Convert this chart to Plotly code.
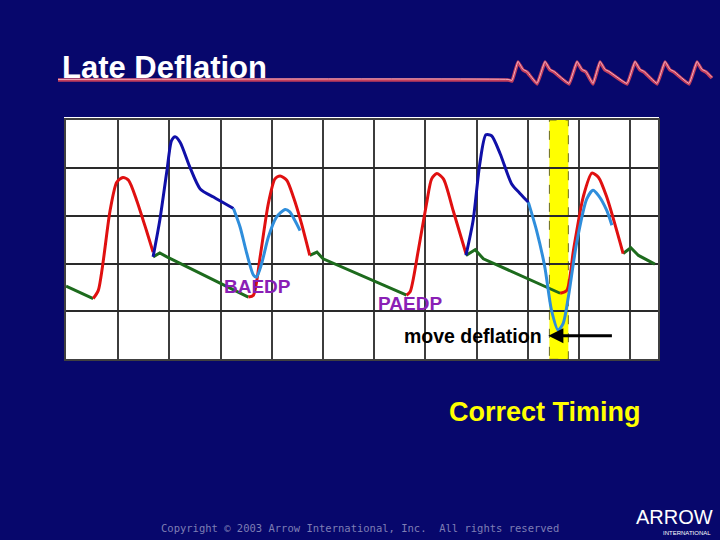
import plotly.graph_objects as go

# ---------------- data (grid units: x = time divisions, y = pressure divisions) -------------
green_x = [[-1.02, -0.49], [0.68, 0.81, 0.95, 2.54], [3.74, 3.88, 4.00, 5.63],
           [6.79, 6.97, 7.13, 8.63], [9.86, 10.01, 10.16, 10.48]]
green_y = [[1.53, 1.27], [2.14, 2.22, 2.14, 1.30], [2.17, 2.24, 2.10, 1.34],
           [2.17, 2.29, 2.10, 1.38], [2.21, 2.33, 2.17, 1.99]]

red_x = [[-0.49, -0.39, -0.16, -0.03, 0.09, 0.20, 0.36, 0.55, 0.68],
         [2.54, 2.64, 2.77, 2.93, 3.06, 3.16, 3.29, 3.42, 3.58, 3.74],
         [5.63, 5.70, 5.86, 6.02, 6.12, 6.22, 6.35, 6.54, 6.79],
         [8.63, 8.76, 8.89, 9.08, 9.25, 9.38, 9.54, 9.86]]
red_y = [[1.27, 1.44, 3.11, 3.70, 3.80, 3.74, 3.32, 2.69, 2.24],
         [1.30, 1.34, 2.14, 3.25, 3.77, 3.83, 3.74, 3.39, 2.83, 2.17],
         [1.34, 1.41, 2.28, 3.25, 3.77, 3.88, 3.77, 3.11, 2.21],
         [1.38, 1.44, 2.28, 3.39, 3.89, 3.80, 3.39, 2.21]]

blue_x = [[0.68, 0.81, 0.95, 1.04, 1.11, 1.21, 1.40, 1.60, 1.86, 2.25],
          [6.79, 6.93, 7.06, 7.18, 7.29, 7.46, 7.68, 7.85, 8.01]]
blue_y = [[2.14, 2.90, 3.94, 4.57, 4.65, 4.53, 4.01, 3.56, 3.39, 3.15],
          [2.17, 2.90, 4.08, 4.69, 4.67, 4.29, 3.67, 3.46, 3.28]]

lblue_x = [[2.25, 2.38, 2.51, 2.64, 2.70, 2.80, 2.93, 3.09, 3.26, 3.35, 3.45, 3.55],
           [8.01, 8.17, 8.33, 8.46, 8.59, 8.69, 8.79, 8.95, 9.15, 9.27, 9.38, 9.54, 9.64]]
lblue_y = [[3.15, 2.76, 2.21, 1.76, 1.72, 2.00, 2.55, 2.97, 3.13, 3.08, 2.90, 2.69],
           [3.28, 2.69, 1.93, 1.03, 0.61, 0.75, 1.30, 2.42, 3.35, 3.53, 3.42, 3.11, 2.80]]

highlight = [8.42, 8.79]            # yellow deflation-timing band

label_text = ["BAEDP", "PAEDP"]
label_x = [2.72, 5.69]
label_y = [1.53, 1.16]

move_text = "move deflation"
move_x, move_y = 8.32, 0.49
arrow_tail_x = 9.67

# decorative title underline + ECG squiggle (page pixels)
ecg_x = [58, 508, 512, 518, 523, 527, 537, 545, 550, 554, 569, 577, 582, 586, 593, 600, 605,
         609, 627, 635, 640, 644, 657, 665, 670, 674, 689, 697, 702, 706, 712]
ecg_y = [80, 80, 81, 62, 70, 72, 84, 62, 70, 72, 84, 62, 70, 72, 84, 62, 70,
         72, 84, 62, 70, 72, 84, 62, 70, 72, 84, 62, 70, 72, 78]

W, H = 720, 540
BG = "#07076c"

fig = go.Figure()

def seg(xs, ys, color, shape="spline"):
    for sx, sy in zip(xs, ys):
        fig.add_trace(go.Scatter(x=sx, y=sy, mode="lines", xaxis="x", yaxis="y",
                                 line=dict(color=color, width=3, shape=shape, smoothing=0.7),
                                 hoverinfo="skip", showlegend=False))

seg(green_x, green_y, "#1d6b1d", shape="linear")
seg(red_x, red_y, "#e01010")
seg(blue_x, blue_y, "#1010a8")
seg(lblue_x, lblue_y, "#2f8edc")

# decoration traces
fig.add_trace(go.Scatter(x=ecg_x, y=ecg_y, mode="lines", xaxis="x2", yaxis="y2",
                         line=dict(color="#c23e5c", width=3.5, shape="spline", smoothing=0.3),
                         hoverinfo="skip", showlegend=False))
fig.add_trace(go.Scatter(x=ecg_x, y=[v - 0.6 for v in ecg_y], mode="lines", xaxis="x2", yaxis="y2",
                         line=dict(color="#f5b0c0", width=1, shape="spline", smoothing=0.3),
                         hoverinfo="skip", showlegend=False))

x0, x1 = 66, 658
y0, y1 = 120, 359.3

shapes = [
    dict(type="rect", xref="paper", yref="paper", x0=64 / W, x1=659 / W,
         y0=1 - 361 / H, y1=1 - 117 / H, fillcolor="white", line=dict(width=0), layer="below"),
    dict(type="rect", xref="x", yref="y domain", x0=highlight[0], x1=highlight[1], y0=0, y1=1,
         fillcolor="#ffff00", line=dict(color="#6a6a20", width=1, dash="dash"), layer="below"),
]

annotations = []
for t, lx, ly in zip(label_text, label_x, label_y):
    annotations.append(dict(x=lx, y=ly, xref="x", yref="y", text=f"<b>{t}</b>", showarrow=False,
                            font=dict(family="Liberation Sans, Arial", size=19, color="#8a1fb5")))
annotations.append(dict(x=move_x, y=move_y, xref="x", yref="y", text=f"<b>{move_text}</b>",
                        showarrow=False, xanchor="right",
                        font=dict(family="Liberation Sans, Arial", size=19.5, color="black")))
annotations.append(dict(x=move_x + 0.08, y=move_y, ax=arrow_tail_x, ay=move_y, xref="x", yref="y",
                        axref="x", ayref="y", text="", showarrow=True, arrowhead=2,
                        arrowsize=1, arrowwidth=3, arrowcolor="black"))

def pa(text, px, py, size, color, family="Liberation Sans, Arial", xanchor="center", bold=False):
    annotations.append(dict(x=px / W, y=1 - py / H, xref="paper", yref="paper",
                            text=f"<b>{text}</b>" if bold else text, showarrow=False,
                            xanchor=xanchor, yanchor="middle",
                            font=dict(family=family, size=size, color=color)))

pa("Late Deflation", 60, 67, 31, "white", xanchor="left", bold=True)
pa("Correct Timing", 545, 412, 27, "#ffff00", bold=True)
pa("Copyright © 2003 Arrow International, Inc.  All rights reserved", 360, 528, 10.5,
   "#7e7eb4", family="DejaVu Sans Mono, monospace")
pa("ARROW", 674, 517, 20, "white", family="Liberation Sans, Arial")
pa("INTERNATIONAL", 687, 533, 6, "white")

fig.update_layout(
    width=W, height=H, margin=dict(l=0, r=0, t=0, b=0),
    paper_bgcolor=BG, plot_bgcolor="rgba(0,0,0,0)",
    showlegend=False,
    xaxis=dict(domain=[x0 / W, x1 / W], range=[-1.021, 10.541], tickvals=list(range(0, 11)),
               showticklabels=False, ticks="", showgrid=True, gridcolor="#3c3c3c", gridwidth=1.5,
               zeroline=False, showline=True, linecolor="#404040", linewidth=2, mirror=True,
               fixedrange=True),
    yaxis=dict(domain=[1 - y1 / H, 1 - y0 / H], range=[0, 5], tickvals=[1, 2, 3, 4],
               showticklabels=False, ticks="", showgrid=True, gridcolor="#2a2a2a", gridwidth=1.5,
               zeroline=False, showline=True, linecolor="#404040", linewidth=2, mirror=True,
               fixedrange=True),
    xaxis2=dict(domain=[0, 1], range=[0, W], visible=False, anchor="y2", fixedrange=True),
    yaxis2=dict(domain=[0, 1], range=[H, 0], visible=False, anchor="x2", fixedrange=True),
    shapes=shapes, annotations=annotations,
)

fig.write_html("out.html")
